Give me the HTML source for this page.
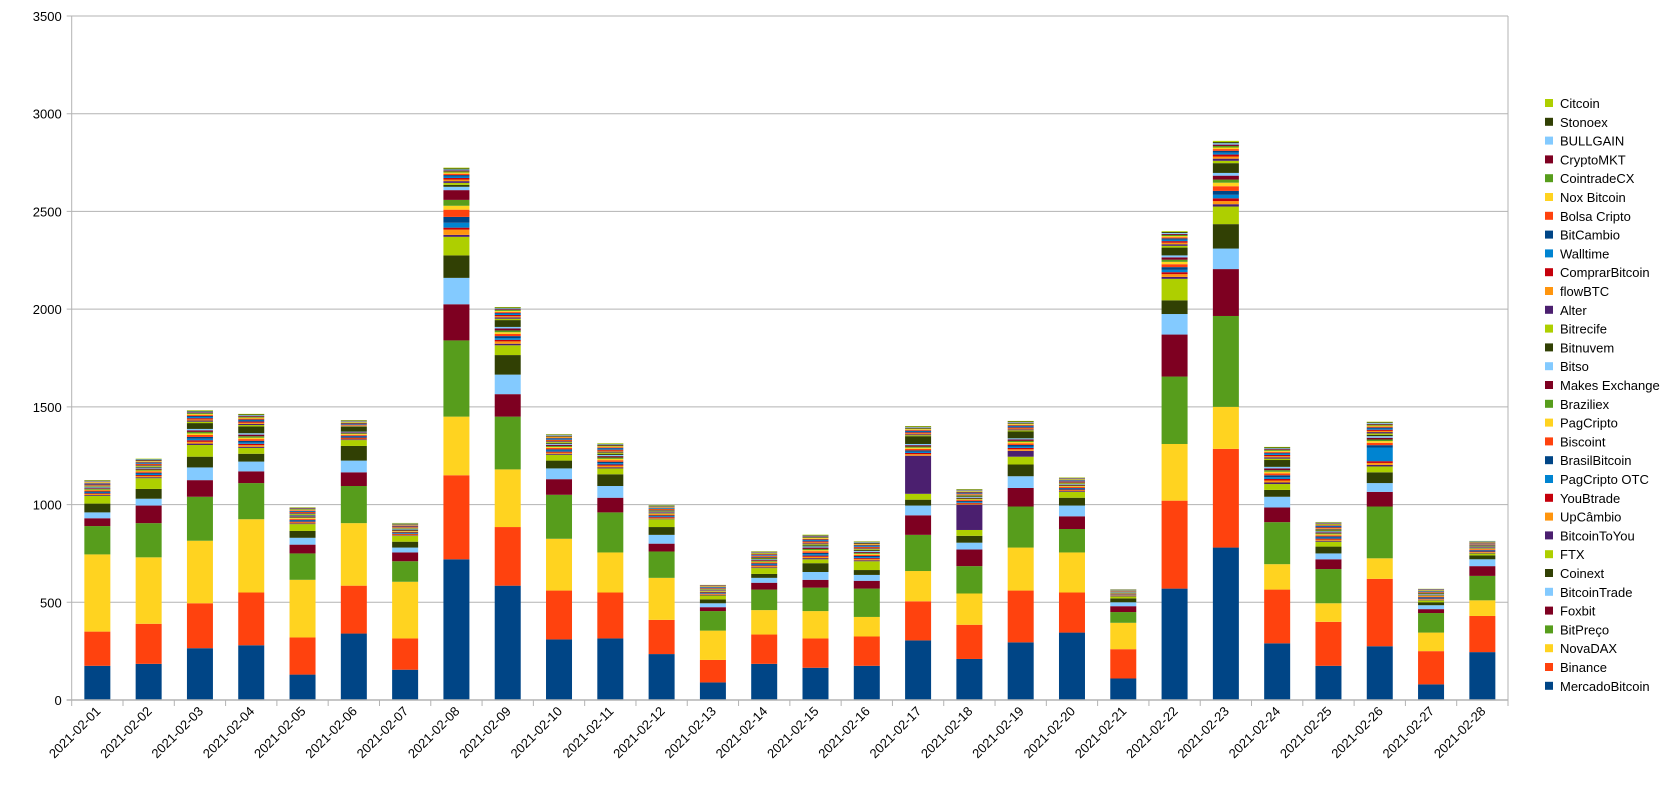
<!DOCTYPE html>
<html><head><meta charset="utf-8"><style>
body{margin:0;background:#fff;}
svg{display:block;font-family:"Liberation Sans",sans-serif;}
</style></head><body>
<svg id="chart" width="1670" height="789"></svg>
<script>
const categories=["2021-02-01","2021-02-02","2021-02-03","2021-02-04","2021-02-05","2021-02-06","2021-02-07","2021-02-08","2021-02-09","2021-02-10","2021-02-11","2021-02-12","2021-02-13","2021-02-14","2021-02-15","2021-02-16","2021-02-17","2021-02-18","2021-02-19","2021-02-20","2021-02-21","2021-02-22","2021-02-23","2021-02-24","2021-02-25","2021-02-26","2021-02-27","2021-02-28"];
const seriesNames=["MercadoBitcoin","Binance","NovaDAX","BitPreço","Foxbit","BitcoinTrade","Coinext","FTX","BitcoinToYou","UpCâmbio","YouBtrade","PagCripto OTC","BrasilBitcoin","Biscoint","PagCripto","Braziliex","Makes Exchange","Bitso","Bitnuvem","Bitrecife","Alter","flowBTC","ComprarBitcoin","Walltime","BitCambio","Bolsa Cripto","Nox Bitcoin","CointradeCX","CryptoMKT","BULLGAIN","Stonoex","Citcoin"];
const colors=["#004586","#ff420e","#ffd320","#579d1c","#7e0021","#83caff","#314004","#aecf00","#4b1f6f","#ff950e","#c5000b","#0084d1"];
const sMercadoBitcoin=[175,185,265,280,130,340,155,720,585,310,315,235,90,185,165,175,305,210,295,345,110,570,780,290,175,275,80,245];
const sBinance=[175,205,230,270,190,245,160,430,300,250,235,175,115,150,150,150,200,175,265,205,150,450,505,275,225,345,170,185];
const sNovaDAX=[395,340,320,375,295,320,290,300,295,265,205,215,150,125,140,100,155,160,220,205,135,290,215,130,95,105,95,80];
const sBitPreco=[145,175,225,185,135,190,105,390,270,225,205,135,100,105,120,145,185,140,210,120,55,345,465,215,175,265,100,125];
const sFoxbit=[40,90,85,60,45,70,45,185,115,80,75,40,20,35,40,40,100,85,95,65,30,215,240,75,50,75,20,50];
const sBitcoinTrade=[30,35,65,50,35,60,25,135,100,55,60,45,20,25,40,30,50,35,60,55,20,105,105,55,30,45,20,35];
const sCoinext=[45,50,55,40,35,75,30,115,100,40,60,40,20,20,45,25,30,35,60,40,20,70,125,35,35,55,15,20];
const sFTX=[40,55,60,30,35,30,30,95,50,30,30,40,20,30,20,45,30,30,40,30,10,110,90,30,25,30,10,10];
const sBitcoinToYou=[4,5,7,6,4,4,3,10,8,5,6,3,3,4,6,5,195,130,30,4,2,10,12,8,5,8,3,3];
const sUpCambio=[5,6,9,8,5,4,4,27,12,6,8,4,3,6,7,6,8,5,8,4,2,14,16,10,6,10,3,4];
const sYouBtrade=[4,5,8,7,4,5,3,10,8,5,6,4,3,4,6,5,6,4,7,4,2,10,14,8,5,9,3,3];
const sPagCriptoOTC=[4,6,8,7,4,4,3,25,9,6,7,4,3,5,7,5,6,4,7,4,2,12,18,9,5,70,3,3];
const sBrasilBitcoin=[5,6,9,8,5,5,4,30,10,6,7,4,3,5,7,6,7,5,8,4,2,14,20,10,6,12,4,4];
const sBiscoint=[5,6,10,9,5,5,4,37,11,7,8,5,3,5,8,6,8,5,8,5,2,15,24,10,6,12,4,4];
const sPagCripto=[4,5,8,7,4,4,3,20,9,5,7,4,3,4,6,5,6,4,7,4,2,12,18,8,5,9,3,3];
const sBraziliex=[4,5,8,8,4,4,3,30,9,5,7,3,3,4,6,5,6,4,6,3,2,11,16,8,5,8,3,3];
const sMakes=[4,5,8,8,5,4,3,50,10,6,7,4,3,4,7,5,7,4,7,4,2,12,20,9,5,9,3,4];
const sBitso=[4,5,7,7,4,4,3,17,8,5,6,3,2,4,6,5,6,4,6,3,2,10,14,8,5,8,3,3];
const sBitnuvem=[3,4,30,35,4,24,3,10,35,5,6,3,2,4,6,5,40,4,35,3,2,40,50,35,5,7,3,3];
const sBitrecife=[3,4,7,7,4,3,3,10,7,4,6,3,2,4,5,4,5,4,6,3,2,9,12,7,4,7,2,3];
const sAlter=[3,4,6,6,4,3,3,9,7,4,5,3,2,4,5,4,5,3,5,3,2,8,11,7,4,7,2,3];
const sFlowBTC=[3,4,6,6,3,3,3,8,6,4,5,3,2,3,5,4,5,3,5,3,1,8,11,6,4,6,2,2];
const sComprarBitcoin=[3,4,6,6,3,3,3,8,6,4,5,3,2,3,5,4,5,3,5,3,1,8,10,6,4,6,2,2];
const sWalltime=[3,4,6,5,3,3,2,8,6,4,5,3,2,3,5,4,4,3,5,3,1,7,10,6,4,6,2,2];
const sBitCambio=[3,3,5,5,3,3,2,7,5,4,4,3,2,3,4,4,4,3,4,3,1,7,9,5,4,5,2,2];
const sBolsaCripto=[3,3,5,5,3,3,2,7,5,3,4,2,2,3,4,3,4,3,4,2,1,6,9,5,3,5,2,2];
const sNoxBitcoin=[3,3,5,5,3,3,2,6,5,3,4,2,2,3,4,3,4,3,4,2,1,6,8,5,3,5,2,2];
const sCointradeCX=[2,3,5,4,3,3,2,6,5,3,4,2,2,3,4,3,4,3,4,2,1,6,8,5,3,5,2,2];
const sCryptoMKT=[2,3,4,4,3,2,2,5,4,3,3,2,2,2,4,3,3,2,3,2,1,5,7,4,3,4,2,2];
const sBULLGAIN=[2,3,4,4,2,2,2,5,4,3,3,2,1,2,3,3,3,2,3,2,1,5,7,4,3,4,2,2];
const sStonoex=[2,2,4,4,2,2,2,5,4,3,3,2,1,2,3,3,3,2,3,2,1,5,6,4,2,4,1,2];
const sCitcoin=[2,2,3,3,2,2,2,4,3,2,3,2,1,2,3,2,3,2,3,2,1,4,6,3,2,3,1,1];
const seriesValues=[sMercadoBitcoin,sBinance,sNovaDAX,sBitPreco,sFoxbit,sBitcoinTrade,sCoinext,sFTX,sBitcoinToYou,sUpCambio,sYouBtrade,sPagCriptoOTC,sBrasilBitcoin,sBiscoint,sPagCripto,sBraziliex,sMakes,sBitso,sBitnuvem,sBitrecife,sAlter,sFlowBTC,sComprarBitcoin,sWalltime,sBitCambio,sBolsaCripto,sNoxBitcoin,sCointradeCX,sCryptoMKT,sBULLGAIN,sStonoex,sCitcoin];
const yTicks=[0,500,1000,1500,2000,2500,3000,3500];

const NS="http://www.w3.org/2000/svg";
const svg=document.getElementById("chart");
const X0=71.7,X1=1508,Y0=700,YT=16,YMAX=3500;
const catW=(X1-X0)/categories.length, barW=26;
const yS=v=>Y0-(v/YMAX)*(Y0-YT);
const xC=i=>X0+catW*(i+0.5);
function mk(t,a){const e=document.createElementNS(NS,t);for(const k in a)e.setAttribute(k,a[k]);svg.appendChild(e);return e;}

yTicks.forEach(t=>{
  const y=yS(t);
  const g=mk("line",{x1:X0-5,x2:X1,y1:y,y2:y,stroke:"#b3b3b3","stroke-width":1});
  
  
  const tx=mk("text",{x:X0-10,y:y+5,"text-anchor":"end","font-size":"13",fill:"#000"});
  tx.textContent=t;
  
  
});
const ax=mk("line",{x1:X0,x2:X0,y1:YT,y2:Y0,stroke:"#b3b3b3"});


const rb=mk("line",{x1:X1,x2:X1,y1:YT,y2:Y0,stroke:"#b3b3b3"});


for(let i=0;i<=categories.length;i++){
  const x=X0+catW*i;
  const tk=mk("line",{x1:x,x2:x,y1:Y0,y2:Y0+6,stroke:"#b3b3b3"});
  
  
}
categories.forEach((c,i)=>{
  let acc=0;
  seriesValues.forEach((arr,s)=>{
    const v=arr[i]; if(!v)return;
    const yb=yS(acc), yt=yS(acc+v);
    const r=mk("rect",{x:xC(i)-barW/2,y:yt,width:barW,height:yb-yt,fill:colors[s%12]});
    
    
    acc+=v;
  });
  const x=xC(i)+4, y=712;
  const lb=mk("text",{x:x,y:y,"text-anchor":"end","font-size":"13",transform:`rotate(-45 ${x} ${y})`});
  lb.textContent=c;
  
  
});
const base=mk("line",{x1:X0-5,x2:X1,y1:Y0,y2:Y0,stroke:"#b3b3b3","stroke-width":1.5});


for(let k=0;k<seriesNames.length;k++){
  const s=seriesNames.length-1-k;
  const cy=103+k*18.8;
  const sq=mk("rect",{x:1545,y:cy-4,width:8,height:8,fill:colors[s%12]});
  
  
  const t=mk("text",{x:1560,y:cy+5,"font-size":"13",fill:"#000"});
  t.textContent=seriesNames[s];
  
  
}
</script>
</body></html>
